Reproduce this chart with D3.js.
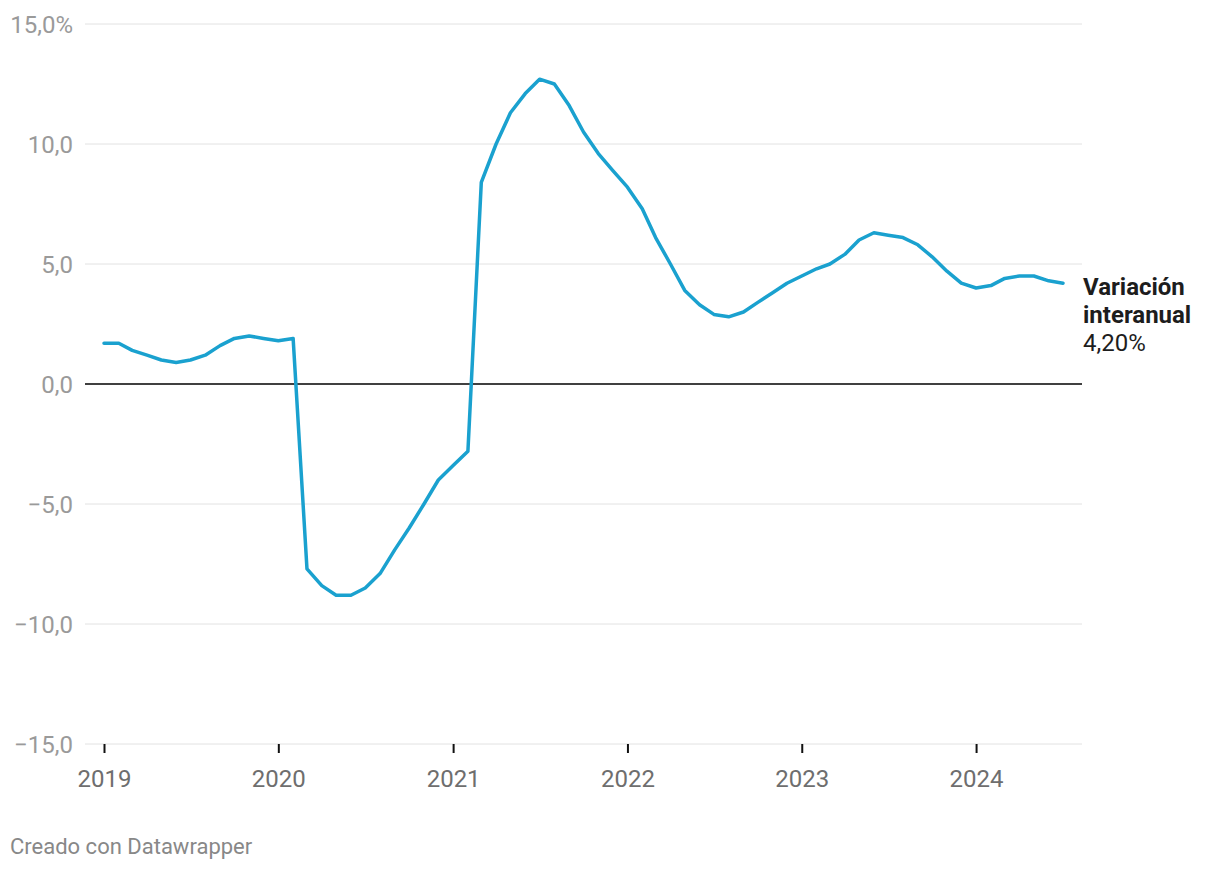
<!DOCTYPE html>
<html>
<head>
<meta charset="utf-8">
<script src="https://cdn.jsdelivr.net/npm/d3@7"></script>
<style>
  body { margin: 0; background: #fff; }
  svg text { font-family: Roboto, "Noto Sans", sans-serif; }
</style>
</head>
<body>
<svg width="1220" height="870"></svg>
<script>
// monthly values, Jan 2019 .. Jul 2024
var startMonth = "2019-01";
var values = [
  1.7, 1.7, 1.4, 1.2, 1.0, 0.9, 1.0, 1.2, 1.6, 1.9, 2.0, 1.9,
  1.8, 1.9, -7.7, -8.4, -8.8, -8.8, -8.5, -7.9, -6.9, -6.0, -5.0, -4.0,
  -3.4, -2.8, 8.4, 10.0, 11.3, 12.1, 12.7, 12.5, 11.6, 10.5, 9.6, 8.9,
  8.2, 7.3, 6.1, 5.0, 3.9, 3.3, 2.9, 2.8, 3.0, 3.4, 3.8, 4.2,
  4.5, 4.8, 5.0, 5.4, 6.0, 6.3, 6.2, 6.1, 5.8, 5.3, 4.7, 4.2,
  4.0, 4.1, 4.4, 4.5, 4.5, 4.3, 4.2
];
var yTicks = [15, 10, 5, 0, -5, -10, -15];
var yTickLabels = ["15,0%", "10,0", "5,0", "0,0", "\u22125,0", "\u221210,0", "\u221215,0"];
var xTickYears = [2019, 2020, 2021, 2022, 2023, 2024];
var seriesLabel = ["Variación", "interanual"];
var lastLabel = "4,20%";

var parseMonth = d3.timeParse("%Y-%m");
var t0 = parseMonth(startMonth);
var data = values.map(function(v, i) { return { date: d3.timeMonth.offset(t0, i), value: v }; });

var svg = d3.select("svg");

var x = d3.scaleTime()
  .domain([data[0].date, data[data.length - 1].date])
  .range([104, 1063]);
var y = d3.scaleLinear().domain([-15, 15]).range([744, 24]);

var gridLeft = 85, gridRight = 1082;

// gridlines
svg.selectAll("line.grid").data(yTicks).enter()
  .append("line")
  .attr("class", "grid")
  .attr("x1", gridLeft).attr("x2", gridRight)
  .attr("y1", function(d){ return y(d) }).attr("y2", function(d){ return y(d) })
  .attr("stroke", function(d){ return d === 0 ? "#000" : "#e2e2e2" })
  .attr("stroke-width", function(d){ return d === 0 ? 1.5 : 1 });

// y labels
svg.selectAll("text.ylab").data(yTicks).enter()
  .append("text")
  .attr("class", "ylab")
  .attr("x", 73)
  .attr("y", function(d){ return y(d) })
  .attr("dy", "0.36em")
  .attr("text-anchor", "end")
  .attr("font-size", 24)
  .attr("fill", "#9a9a9a")
  .text(function(d, i){ return yTickLabels[i] });

// x axis
var xAxis = d3.axisBottom(x)
  .tickValues(xTickYears.map(function(yr){ return new Date(yr, 0, 1) }))
  .tickSize(9)
  .tickPadding(17)
  .tickFormat(d3.timeFormat("%Y"));

var gx = svg.append("g").attr("transform", "translate(0," + y(-15) + ")").call(xAxis);
gx.select(".domain").remove();
gx.selectAll(".tick line").attr("stroke", "#111").attr("stroke-width", 2);
gx.selectAll(".tick text")
  .attr("font-size", 24)
  .attr("fill", "#6e6e6e")
  .style("font-family", "Roboto, sans-serif");

// line
var line = d3.line()
  .x(function(d){ return x(d.date) })
  .y(function(d){ return y(d.value) });

svg.append("path")
  .datum(data)
  .attr("d", line)
  .attr("fill", "none")
  .attr("stroke", "#1aa1cf")
  .attr("stroke-width", 3.5)
  .attr("stroke-linejoin", "round")
  .attr("stroke-linecap", "round");

// end label
var last = data[data.length - 1];
var lab = svg.append("text")
  .attr("x", 1083)
  .attr("y", y(last.value) + 12)
  .attr("font-size", 24)
  .attr("fill", "#1d1d1d");
lab.append("tspan").attr("x", 1083).attr("font-weight", 700).text(seriesLabel[0]);
lab.append("tspan").attr("x", 1083).attr("dy", 28).attr("font-weight", 700).text(seriesLabel[1]);
lab.append("tspan").attr("x", 1083).attr("dy", 28).text(lastLabel);

// footer
svg.append("text")
  .attr("x", 10)
  .attr("y", 854)
  .attr("font-size", 22)
  .attr("fill", "#888")
  .text("Creado con Datawrapper");
</script>
</body>
</html>
